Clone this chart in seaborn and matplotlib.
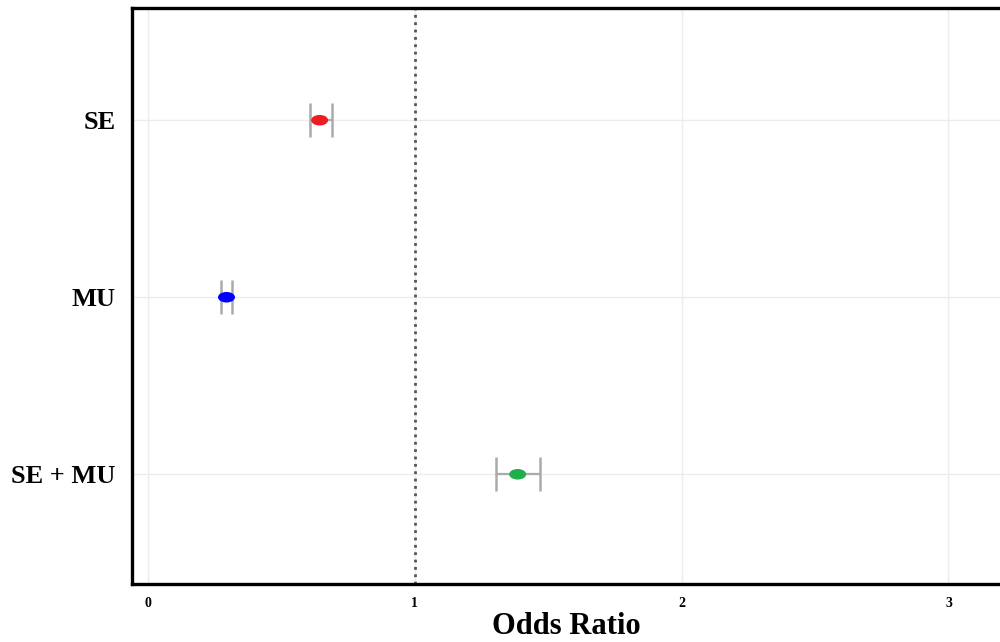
import numpy as np
import pandas as pd
import matplotlib
matplotlib.use("Agg")
import matplotlib.pyplot as plt
from matplotlib.path import Path
from matplotlib.transforms import Affine2D
import seaborn as sns

# data
groups = ["SE", "MU", "SE + MU"]
odds_ratio = [0.644, 0.295, 1.386]
ci_low = [0.607, 0.273, 1.303]
ci_high = [0.691, 0.317, 1.469]
colors = ["#ed1c24", "#0000ff", "#1fae4b"]

df = pd.DataFrame({"group": groups, "or": odds_ratio,
                   "lo": ci_low, "hi": ci_high})

sns.set_theme(style="whitegrid")
plt.rcParams["font.family"] = ["Liberation Serif", "DejaVu Serif"]
plt.rcParams["text.color"] = "black"
plt.rcParams["axes.labelcolor"] = "black"
plt.rcParams["xtick.color"] = "black"
plt.rcParams["ytick.color"] = "black"

fig = plt.figure(figsize=(10, 6.42), dpi=100)
ax = fig.add_axes([0.132, 0.0903, 0.868, 0.897])

# reference line at OR = 1
ax.axvline(1, color="#555555", linestyle=":", linewidth=2, zorder=1)

# confidence intervals
ax.errorbar(df["or"], df["group"],
            xerr=[df["or"] - df["lo"], df["hi"] - df["or"]],
            fmt="none", ecolor="#aaaaaa", elinewidth=1.6,
            capsize=12.2, capthick=1.8, zorder=2)

# ellipse-shaped point marker
ellipse = Path.unit_circle().transformed(Affine2D().scale(1, 0.62))
sns.scatterplot(data=df, x="or", y="group", hue="group",
                palette=colors, marker=ellipse, s=150,
                edgecolor="none", legend=False, ax=ax, zorder=3)

ax.set_xlim(-0.059, 3.193)
ax.set_ylim(2.62, -0.633)
ax.set_xticks([0, 1, 2, 3])
ax.set_xticklabels(["0", "1", "2", "3"], fontsize=10, fontweight="bold",
                   color="black")
ax.set_yticks(range(len(groups)))
ax.set_yticklabels(groups, fontsize=19, fontweight="bold", color="black")
ax.tick_params(axis="both", length=0)
ax.tick_params(axis="x", pad=9)
ax.tick_params(axis="y", pad=12)

ax.set_xlabel("Odds Ratio", fontsize=22, fontweight="bold", labelpad=2,
              color="black")
ax.set_ylabel("")

ax.grid(True, color="#ececec", linewidth=1)
for side in ["left", "bottom", "top"]:
    ax.spines[side].set_visible(True)
    ax.spines[side].set_color("black")
    ax.spines[side].set_linewidth(2.4)
ax.spines["right"].set_visible(False)

fig.savefig("out.png", dpi=100)
